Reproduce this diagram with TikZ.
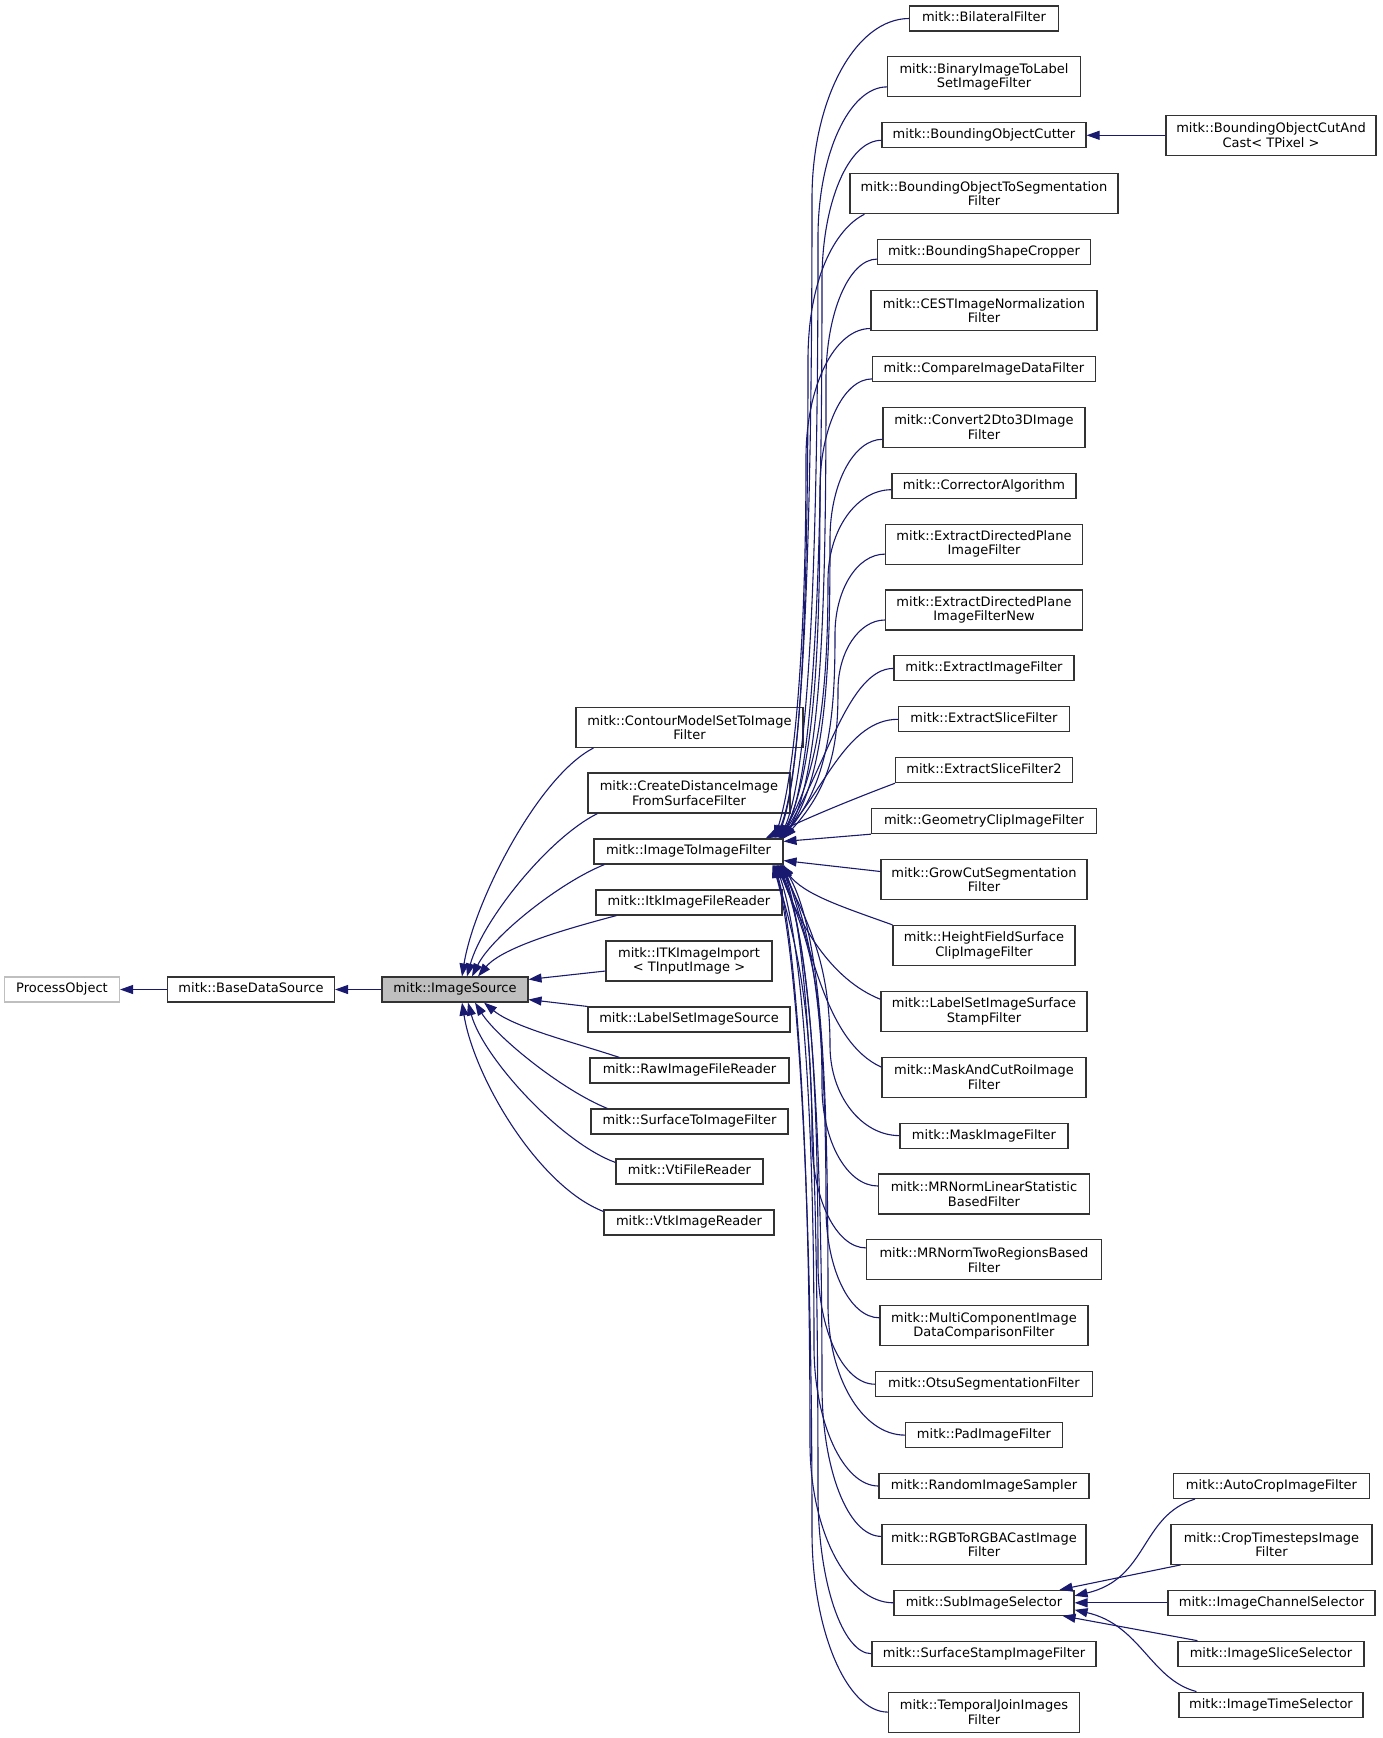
\documentclass[tikz,border=0pt]{standalone}
\usepackage{fontspec}
\setmainfont{DejaVu Sans}
\usetikzlibrary{arrows.meta}
\definecolor{edgeblue}{HTML}{191970}
\definecolor{boxline}{HTML}{333333}
\definecolor{boxgray}{HTML}{BFBFBF}
\begin{document}
\begin{tikzpicture}[x=1pt,y=-1pt,
  box/.style={draw=boxline, line width=1.1pt, inner sep=0pt, align=center, font=\fontsize{13pt}{14.5pt}\selectfont, fill=white},
  sbox/.style={box, minimum height=25pt, text height=9.5pt, text depth=2.6pt},
  dbox/.style={box, minimum height=40pt},
  edge/.style={draw=edgeblue, line width=1.1pt, -{Triangle[length=13pt,width=9pt]}}
]
\fill[white] (0,0) rectangle (1383,1738);
\useasboundingbox (0,0) rectangle (1383,1738);

% left
\node[sbox, minimum width=115pt, draw=boxgray] (proc) at (62,989.5) {ProcessObject};
\node[sbox, minimum width=167pt] (base) at (251,989.5) {mitk::BaseDataSource};
\node[sbox, minimum width=146pt, fill=boxgray] (isrc) at (455,989.5) {mitk::ImageSource};

% middle
\node[dbox, minimum width=227pt] (m1) at (689.5,727.5) {mitk::ContourModelSetToImage\\Filter};
\node[dbox, minimum width=202pt] (m2) at (689,793) {mitk::CreateDistanceImage\\FromSurfaceFilter};
\node[sbox, minimum width=189pt] (iti) at (688.5,851.5) {mitk::ImageToImageFilter};
\node[sbox, minimum width=186pt] (m4) at (689,902.5) {mitk::ItkImageFileReader};
\node[dbox, minimum width=166pt] (m5) at (689,961) {mitk::ITKImageImport\\< TInputImage >};
\node[sbox, minimum width=202pt] (m6) at (689,1019.5) {mitk::LabelSetImageSource};
\node[sbox, minimum width=199pt] (m7) at (689.5,1070.5) {mitk::RawImageFileReader};
\node[sbox, minimum width=197pt] (m8) at (689.5,1121.5) {mitk::SurfaceToImageFilter};
\node[sbox, minimum width=147pt] (m9) at (689.5,1171.5) {mitk::VtiFileReader};
\node[sbox, minimum width=170pt] (m10) at (689,1222.5) {mitk::VtkImageReader};

% right column
\node[sbox, minimum width=148.5pt] (r1) at (984,18.5) {mitk::BilateralFilter};
\node[dbox, minimum width=193pt] (r2) at (984,76.9) {mitk::BinaryImageToLabel\\SetImageFilter};
\node[sbox, minimum width=204pt] (r3) at (984,135.3) {mitk::BoundingObjectCutter};
\node[dbox, minimum width=268pt] (r4) at (984,193.7) {mitk::BoundingObjectToSegmentation\\Filter};
\node[sbox, minimum width=213pt] (r5) at (984,252.1) {mitk::BoundingShapeCropper};
\node[dbox, minimum width=226pt] (r6) at (984,310.5) {mitk::CESTImageNormalization\\Filter};
\node[sbox, minimum width=223pt] (r7) at (984,368.9) {mitk::CompareImageDataFilter};
\node[dbox, minimum width=202pt] (r8) at (984,427.3) {mitk::Convert2Dto3DImage\\Filter};
\node[sbox, minimum width=184pt] (r9) at (984,485.7) {mitk::CorrectorAlgorithm};
\node[dbox, minimum width=197pt] (r10) at (984,544.1) {mitk::ExtractDirectedPlane\\ImageFilter};
\node[dbox, minimum width=197pt] (r11) at (984,610.0) {mitk::ExtractDirectedPlane\\ImageFilterNew};
\node[sbox, minimum width=180pt] (r12) at (984,668.4) {mitk::ExtractImageFilter};
\node[sbox, minimum width=171pt] (r13) at (984,719.3) {mitk::ExtractSliceFilter};
\node[sbox, minimum width=177pt] (r14) at (984,770.2) {mitk::ExtractSliceFilter2};
\node[sbox, minimum width=225pt] (r15) at (984,821.1) {mitk::GeometryClipImageFilter};
\node[dbox, minimum width=206pt] (r16) at (984,879.5) {mitk::GrowCutSegmentation\\Filter};
\node[dbox, minimum width=182pt] (r17) at (984,945.4) {mitk::HeightFieldSurface\\ClipImageFilter};
\node[dbox, minimum width=206pt] (r18) at (984,1011.3) {mitk::LabelSetImageSurface\\StampFilter};
\node[dbox, minimum width=204pt] (r19) at (984,1077.2) {mitk::MaskAndCutRoiImage\\Filter};
\node[sbox, minimum width=168pt] (r20) at (984,1135.6) {mitk::MaskImageFilter};
\node[dbox, minimum width=211pt] (r21) at (984,1194.0) {mitk::MRNormLinearStatistic\\BasedFilter};
\node[dbox, minimum width=235pt] (r22) at (984,1259.9) {mitk::MRNormTwoRegionsBased\\Filter};
\node[dbox, minimum width=208pt] (r23) at (984,1325.8) {mitk::MultiComponentImage\\DataComparisonFilter};
\node[sbox, minimum width=217pt] (r24) at (984,1384.2) {mitk::OtsuSegmentationFilter};
\node[sbox, minimum width=157pt] (r25) at (984,1435.1) {mitk::PadImageFilter};
\node[sbox, minimum width=210pt] (r26) at (984,1486.0) {mitk::RandomImageSampler};
\node[dbox, minimum width=204pt] (r27) at (984,1544.4) {mitk::RGBToRGBACastImage\\Filter};
\node[sbox, minimum width=180pt] (sub) at (984,1602.8) {mitk::SubImageSelector};
\node[sbox, minimum width=224pt] (r29) at (984,1653.7) {mitk::SurfaceStampImageFilter};
\node[dbox, minimum width=191pt] (r30) at (984,1712.1) {mitk::TemporalJoinImages\\Filter};

% far right
\node[dbox, minimum width=210pt] (cut) at (1271,135.3) {mitk::BoundingObjectCutAnd\\Cast< TPixel >};
\node[sbox, minimum width=196pt] (s1) at (1271.5,1486.0) {mitk::AutoCropImageFilter};
\node[dbox, minimum width=201pt] (s2) at (1271.5,1544.4) {mitk::CropTimestepsImage\\Filter};
\node[sbox, minimum width=207pt] (s3) at (1271.5,1602.8) {mitk::ImageChannelSelector};
\node[sbox, minimum width=186pt] (s4) at (1271,1653.7) {mitk::ImageSliceSelector};
\node[sbox, minimum width=184pt] (s5) at (1271,1704.6) {mitk::ImageTimeSelector};

% ---- edges: left chain
\draw[edge] (base.west) -- (proc.east);
\draw[edge] (isrc.west) -- (base.east);

% ---- middle column to ImageSource
\draw[edge] ([shift={(18,0)}]m1.south west) .. controls +(-55,28) and +(12,-75) .. ([shift={(7,0)}]isrc.north);
\draw[edge] ([shift={(10,0)}]m2.south west) .. controls +(-50,25) and +(15,-55) .. ([shift={(12,0)}]isrc.north);
\draw[edge] ([shift={(11,0)}]iti.south west) .. controls +(-45,18) and +(20,-40) .. ([shift={(17,0)}]isrc.north);
\draw[edge] ([shift={(21,0)}]m4.south west) .. controls +(-45,12) and +(25,-30) .. ([shift={(23,0)}]isrc.north);
\draw[edge] ([shift={(0,10)}]m5.west) -- ([shift={(0,3)}]isrc.north east);
\draw[edge] (m6.north west) -- ([shift={(0,-3)}]isrc.south east);
\draw[edge] ([shift={(30,0)}]m7.north west) .. controls +(-45,-15) and +(30,25) .. ([shift={(29,0)}]isrc.south);
\draw[edge] ([shift={(17,0)}]m8.north west) .. controls +(-45,-18) and +(22,35) .. ([shift={(20,0)}]isrc.south);
\draw[edge] ([shift={(0,4)}]m9.north west) .. controls +(-55,-20) and +(15,55) .. ([shift={(13,0)}]isrc.south);
\draw[edge] ([shift={(0,2)}]m10.north west) .. controls +(-65,-25) and +(12,75) .. ([shift={(7,0)}]isrc.south);

% ---- right column to ImageToImageFilter (upper group)
\draw[edge] (r1.west) .. controls +(-54,0) and +(0,-99) .. (812,198.5) .. controls +(0,300) and +(30,-70) .. ([shift={(-8,0)}]iti.north east);
\draw[edge] ([shift={(0,10)}]r2.west) .. controls +(-38,0) and +(0,-82) .. (818,237) .. controls +(0,280) and +(32,-70) .. ([shift={(-4,0)}]iti.north east);
\draw[edge] ([shift={(0,5)}]r3.west) .. controls +(-33,0) and +(0,-77) .. (822,280) .. controls +(0,250) and +(35,-70) .. ([shift={(-2,0)}]iti.north east);
\draw[edge] ([shift={(15,0)}]r4.south west) .. controls +(-30,15) and +(0,-80) .. (808,360) .. controls +(0,220) and +(25,-70) .. ([shift={(-6,0)}]iti.north east);
\draw[edge] ([shift={(0,7)}]r5.west) .. controls +(-28,0) and +(0,-66) .. (826,379) .. controls +(0,200) and +(40,-70) .. (iti.north east);
\draw[edge] ([shift={(0,18)}]r6.west) .. controls +(-36,0) and +(0,-72) .. (806,458) .. controls +(0,170) and +(22,-70) .. ([shift={(-9,0)}]iti.north east);
\draw[edge] ([shift={(0,10)}]r7.west) .. controls +(-29,0) and +(0,-60) .. (820,489) .. controls +(0,150) and +(35,-70) .. ([shift={(-3,0)}]iti.north east);
\draw[edge] ([shift={(0,12)}]r8.west) .. controls +(-29,0) and +(0,-55) .. (830,539) .. controls +(0,120) and +(45,-65) .. ([shift={(-1,0)}]iti.north east);
\draw[edge] ([shift={(0,4)}]r9.west) .. controls +(-35,0) and +(0,-50) .. (828,580) .. controls +(0,100) and +(42,-65) .. ([shift={(-5,0)}]iti.north east);
\draw[edge] ([shift={(0,10)}]r10.west) .. controls +(-28,0) and +(0,-44) .. (835,634) .. controls +(0,70) and +(50,-60) .. ([shift={(-2,0)}]iti.north east);
\draw[edge] ([shift={(0,10)}]r11.west) .. controls +(-26,0) and +(0,-38) .. (838,690) .. controls +(0,50) and +(50,-55) .. (iti.north east);
\draw[edge] (r12.west) .. controls +(-45,0) and +(45,-70) .. ([shift={(-3,0)}]iti.north east);
\draw[edge] (r13.west) .. controls +(-50,0) and +(45,-50) .. ([shift={(-4,0)}]iti.north east);
\draw[edge] (r14.south west) .. controls +(-40,15) and +(40,-20) .. ([shift={(-18,0)}]iti.north east);
\draw[edge] (r15.south west) -- ([shift={(0,3)}]iti.north east);
\draw[edge] ([shift={(0,-8)}]r16.west) -- ([shift={(0,-4)}]iti.south east);

% ---- right column to ImageToImageFilter (lower group)
\draw[edge] (r17.north west) .. controls +(-50,-18) and +(22,30) .. ([shift={(-2,0)}]iti.south east);
\draw[edge] ([shift={(0,-12)}]r18.west) .. controls +(-50,-20) and +(22,60) .. ([shift={(-6,0)}]iti.south east);
\draw[edge] ([shift={(0,-10)}]r19.west) .. controls +(-55,-25) and +(28,85) .. (iti.south east);
\draw[edge] (r20.west) .. controls +(-38,0) and +(0,50) .. (830,1045.6) .. controls +(0,-80) and +(30,60) .. ([shift={(-4,0)}]iti.south east);
\draw[edge] ([shift={(0,-8)}]r21.west) .. controls +(-31,0) and +(0,55) .. (822,1086) .. controls +(0,-110) and +(30,70) .. ([shift={(-7,0)}]iti.south east);
\draw[edge] ([shift={(0,-12)}]r22.west) .. controls +(-30,0) and +(0,60) .. (812,1138) .. controls +(0,-140) and +(20,70) .. ([shift={(-10,0)}]iti.south east);
\draw[edge] ([shift={(0,-8)}]r23.west) .. controls +(-30,0) and +(0,60) .. (826,1208) .. controls +(0,-170) and +(35,70) .. ([shift={(-3,0)}]iti.south east);
\draw[edge] (r24.west) .. controls +(-32,0) and +(0,66) .. (818,1264) .. controls +(0,-200) and +(30,70) .. ([shift={(-6,0)}]iti.south east);
\draw[edge] (r25.west) .. controls +(-43,0) and +(0,72) .. (828,1305) .. controls +(0,-220) and +(40,70) .. ([shift={(-1,0)}]iti.south east);
\draw[edge] (r26.west) .. controls +(-35,0) and +(0,77) .. (814,1346) .. controls +(0,-250) and +(25,70) .. ([shift={(-8,0)}]iti.south east);
\draw[edge] ([shift={(0,-8)}]r27.west) .. controls +(-34,0) and +(0,82) .. (822,1386) .. controls +(0,-280) and +(30,70) .. ([shift={(-5,0)}]iti.south east);
\draw[edge] (sub.west) .. controls +(-46,0) and +(0,88) .. (810,1443) .. controls +(0,-320) and +(20,70) .. ([shift={(-9,0)}]iti.south east);
\draw[edge] (r29.west) .. controls +(-29,0) and +(0,88) .. (818,1494) .. controls +(0,-350) and +(28,70) .. ([shift={(-3,0)}]iti.south east);
\draw[edge] (r30.west) .. controls +(-41,0) and +(0,99) .. (812,1532) .. controls +(0,-380) and +(22,70) .. ([shift={(-11,0)}]iti.south east);

% ---- far right
\draw[edge] (cut.west) -- (r3.east);
\draw[edge] ([shift={(22,0)}]s1.south west) .. controls +(-55,17) and +(74,-17) .. ([shift={(0,-7)}]sub.east);
\draw[edge] ([shift={(10,0)}]s2.south west) -- ([shift={(-15,0)}]sub.north east);
\draw[edge] (s3.west) -- (sub.east);
\draw[edge] ([shift={(20,0)}]s4.north west) -- ([shift={(-12,0)}]sub.south east);
\draw[edge] ([shift={(18,0)}]s5.north west) .. controls +(-46,-12) and +(66,15) .. ([shift={(0,7)}]sub.east);
\end{tikzpicture}
\end{document}
